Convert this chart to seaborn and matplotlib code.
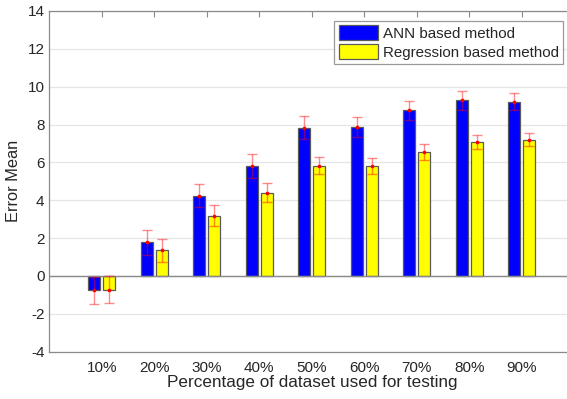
"""
Error mean of ANN vs regression method by test split size.
"""

import matplotlib
matplotlib.use("Agg")
import matplotlib.pyplot as plt
import seaborn as sns
import pandas as pd
import numpy as np

# Data
categories = ["10%", "20%", "30%", "40%", "50%", "60%", "70%", "80%", "90%"]
ann_mean = [-0.75, 1.78, 4.25, 5.83, 7.84, 7.86, 8.75, 9.28, 9.21]
ann_err = [0.72, 0.66, 0.63, 0.63, 0.60, 0.53, 0.51, 0.49, 0.46]
reg_mean = [-0.72, 1.35, 3.19, 4.41, 5.83, 5.83, 6.54, 7.06, 7.21]
reg_err = [0.72, 0.60, 0.54, 0.50, 0.46, 0.42, 0.41, 0.37, 0.34]
methods = ["ANN based method", "Regression based method"]
yticks = [-4, -2, 0, 2, 4, 6, 8, 10, 12, 14]

# Style
sns.set_style("white")
plt.rcParams["font.family"] = ["Liberation Sans", "DejaVu Sans"]
text_color = "#262626"
axis_color = "#8a8a8a"

df = pd.DataFrame({
    "pct": categories * 2,
    "mean": ann_mean + reg_mean,
    "method": [methods[0]] * len(categories) + [methods[1]] * len(categories),
})

fig = plt.figure(figsize=(5.67, 3.99), dpi=100)
ax = fig.add_axes([0.087, 0.1185, 0.926, 0.854])

# Grid lines behind bars
ax.set_axisbelow(True)
ax.yaxis.grid(True, color="#e6e6e6", linewidth=0.9)

sns.barplot(
    data=df, x="pct", y="mean", hue="method", order=categories,
    hue_order=methods, palette=["#0000ff", "#ffff00"], saturation=1,
    width=0.57, gap=0.2, errorbar=None, edgecolor="#5a5a5a",
    linewidth=0.9, ax=ax, zorder=2,
)

# Error bars at the bar centres
for cont, means, errs in zip(ax.containers, [ann_mean, reg_mean], [ann_err, reg_err]):
    xs = [p.get_x() + p.get_width() / 2 for p in cont.patches]
    ax.errorbar(xs, means, yerr=errs, fmt="none", ecolor="red", alpha=0.45,
                elinewidth=1.0, capsize=3.3, capthick=1.0, zorder=3)
    ax.scatter(xs, means, s=7, color="red", zorder=4, linewidths=0)

# Zero baseline
ax.axhline(0, color=axis_color, linewidth=1.0, zorder=2.5)

ax.set_xlim(-1, 9)
ax.set_ylim(-4, 14)
ax.set_yticks(yticks)
ax.set_yticklabels([str(t) for t in yticks])

ax.set_xlabel("Percentage of dataset used for testing", fontsize=12.3,
              color=text_color, labelpad=0)
ax.set_ylabel("Error Mean", fontsize=11.8, color=text_color, labelpad=5)

ax.tick_params(axis="both", direction="in", length=4, width=0.8,
               colors=axis_color, labelcolor=text_color, labelsize=11,
               top=True, right=True)
ax.tick_params(axis="x", pad=7)

for side in ["left", "bottom", "top", "right"]:
    ax.spines[side].set_visible(True)
    ax.spines[side].set_color(axis_color)
    ax.spines[side].set_linewidth(0.9)

leg = ax.legend(
    loc="upper right", bbox_to_anchor=(0.978, 0.971), frameon=True,
    fancybox=False, edgecolor="#808080", fontsize=10.9, handlelength=2.6,
    handleheight=1.15, handletextpad=0.3, borderpad=0.28, labelspacing=0.22,
    borderaxespad=0,
)
leg.get_frame().set_linewidth(0.9)
for t in leg.get_texts():
    t.set_color(text_color)

fig.savefig("out.png", dpi=100)
